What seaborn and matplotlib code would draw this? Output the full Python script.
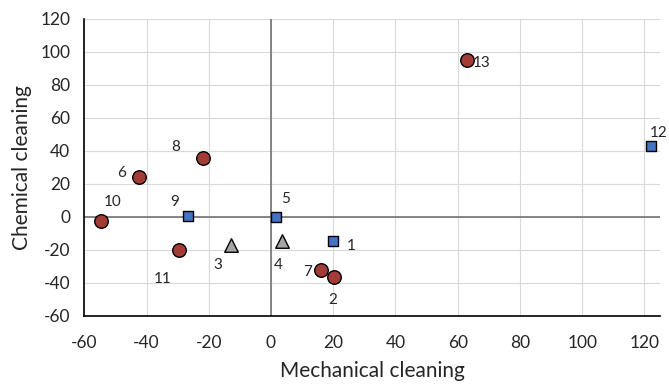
import matplotlib
matplotlib.use("Agg")
import matplotlib.pyplot as plt
import seaborn as sns
import pandas as pd

# ---- data ----
point_labels = ["1", "2", "3", "4", "5", "6", "7", "8", "9", "10", "11", "12", "13"]
mechanical = [20.0, 20.3, -12.8, 3.6, 1.7, -42.3, 16.0, -21.8, -26.7, -54.5, -29.7, 122.2, 63.0]
chemical = [-14.4, -36.2, -17.0, -14.4, 0.0, 24.4, -32.1, 35.6, 0.3, -2.2, -19.8, 43.0, 95.2]
groups = ["square", "circle", "triangle", "triangle", "square", "circle", "circle",
          "circle", "square", "circle", "circle", "square", "circle"]
x_ticks = [-60, -40, -20, 0, 20, 40, 60, 80, 100, 120]
y_ticks = [-60, -40, -20, 0, 20, 40, 60, 80, 100, 120]

# ---- style ----
group_style = {
    "circle": dict(marker="o", color="#A33B37", s=95),
    "square": dict(marker="s", color="#4472C4", s=62),
    "triangle": dict(marker="^", color="#A5A5A5", s=95),
}
# label offsets in pixels (dx, dy), y upward
label_offsets = {
    "1": (18, -5), "2": (-1, -23), "3": (-13, -20), "4": (-4, -24), "5": (9, 18),
    "6": (-18, 4), "7": (-13, -2), "8": (-27, 11), "9": (-13, 14), "10": (11, 19),
    "11": (-16, -29), "12": (7, 13), "13": (15, -3),
}

df = pd.DataFrame({"label": point_labels, "x": mechanical, "y": chemical, "group": groups})

sns.set_style("white")
plt.rcParams["font.family"] = ["Lato", "DejaVu Sans"]
plt.rcParams["axes.unicode_minus"] = False

fig = plt.figure(figsize=(6.69, 3.87), dpi=100)
ax = fig.add_axes([0.126, 0.1835, 0.8605, 0.7675])

ax.set_xlim(-60, 125)
ax.set_ylim(-60, 120)
ax.set_xticks(x_ticks)
ax.set_yticks(y_ticks)
ax.grid(True, color="#D9D9D9", linewidth=0.8, zorder=0)
ax.set_axisbelow(True)

ax.axvline(0, color="#737373", linewidth=1.2, zorder=1)
ax.axhline(0, color="#737373", linewidth=1.2, zorder=1)

for g in ["triangle", "square", "circle"]:
    st = group_style[g]
    sub = df[df["group"] == g]
    sns.scatterplot(data=sub, x="x", y="y", ax=ax, marker=st["marker"], color=st["color"],
                    s=st["s"], edgecolor="black", linewidth=1.0, zorder=3, legend=False)

for lab, xv, yv in zip(point_labels, mechanical, chemical):
    dx, dy = label_offsets[lab]
    ax.annotate(lab, (xv, yv), xytext=(dx, dy), textcoords="offset pixels",
                ha="center", va="center", fontsize=11, color="#262626", zorder=4)

for side in ["top", "right"]:
    ax.spines[side].set_visible(False)
for side in ["left", "bottom"]:
    ax.spines[side].set_color("black")
    ax.spines[side].set_linewidth(1.2)

ax.tick_params(axis="both", direction="inout", length=6, width=1.0, color="black",
               labelsize=12.5, labelcolor="#262626")
ax.tick_params(axis="x", pad=11)
ax.tick_params(axis="y", pad=7)
ax.set_xlabel("Mechanical cleaning", fontsize=15, color="#262626", labelpad=7)
ax.set_ylabel("Chemical cleaning", fontsize=15, color="#262626", labelpad=6)

fig.savefig("out.png", dpi=100)
